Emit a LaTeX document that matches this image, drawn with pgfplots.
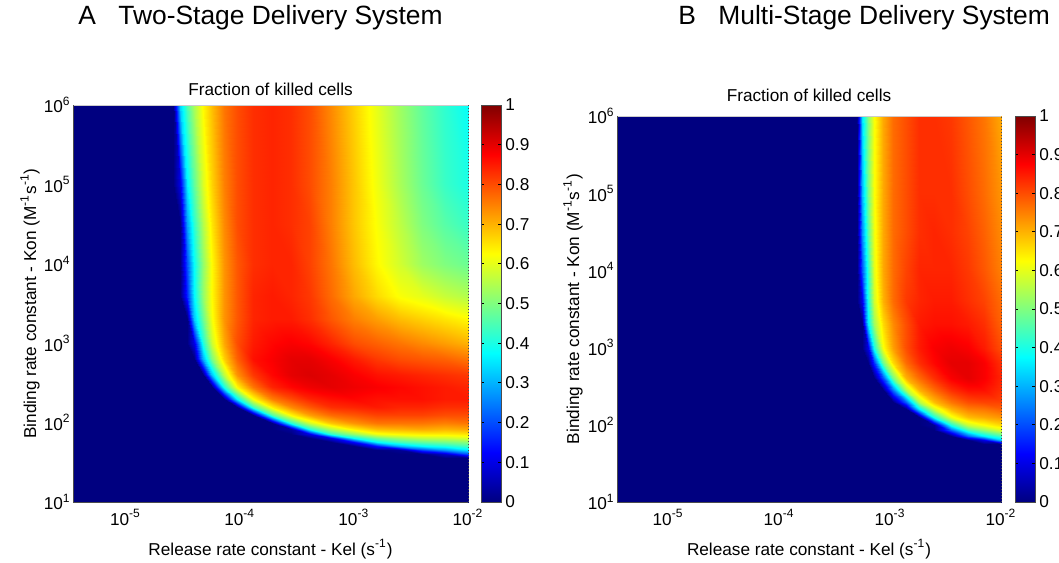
\documentclass[border=0pt]{standalone}
\usepackage{fontspec}
\setmainfont{Liberation Sans}
\usepackage{pgfplots}
\pgfplotsset{compat=1.18}
\newcommand\lab{\fontsize{8.6}{10.3}\selectfont}
\newcommand\bigT{\fontsize{13.2}{15}\selectfont}
\pgfplotsset{
 heat/.style={
  view={0}{90}, scale only axis, colormap/jet,
  point meta min=0, point meta max=1,
  xmin=-5.46, xmax=-2, ymin=1, ymax=6, clip=false,
  xtick={-5,-4,-3,-2},
  xticklabels={10\textsuperscript{-5},10\textsuperscript{-4},10\textsuperscript{-3},10\textsuperscript{-2}},
  ytick={1,2,3,4,5,6},
  yticklabels={10\textsuperscript{1},10\textsuperscript{2},10\textsuperscript{3},10\textsuperscript{4},10\textsuperscript{5},10\textsuperscript{6}},
  ztick=\empty,
  xtick style={draw=none}, ytick style={draw=none},
  axis line style={draw=none},
  ticklabel style={font=\lab},
  xticklabel style={inner sep=3.5pt},
  yticklabel style={inner sep=1pt},
  colorbar,
 },
 cbar/.style={
  colorbar shift/.style={xshift=#1},
  colorbar style={
   at={(parent axis.north east)}, anchor=north west,
   width=10pt, scale only axis,
   ytick={0,0.1,0.2,0.3,0.4,0.5,0.6,0.7,0.8,0.9,1},
   yticklabels={0,0.1,0.2,0.3,0.4,0.5,0.6,0.7,0.8,0.9,1},
   ytick pos=both, yticklabel pos=right, tick align=inside,
   yticklabel style={font=\lab, inner sep=2pt},
   axis line style={gray!60!black, line width=0.5pt},
   ytick style={black, line width=0.5pt},
   major tick length=1.5pt,
  }
 }
}
\begin{document}
\begin{tikzpicture}
\useasboundingbox (0,0) rectangle (529.5pt,-281pt);

% ---------------- Panel A ----------------
\begin{axis}[heat, cbar=6.5pt, at={(36.5pt,-52.5pt)}, anchor=north west,
  width=197.5pt, height=198.5pt, colorbar style={height=198.5pt}]
\addplot3[surf, shader=interp, mesh/cols=20] table[row sep=\\] {
x y z\\
-5.46 1 0\\-4.58 1 0\\-4.52 1 0\\-4.46 1 0\\-4.40 1 0\\-4.32 1 0\\-4.24 1 0\\-4.14 1 0\\-4.02 1 0\\-3.88 1 0\\-3.72 1 0\\-3.55 1 0\\-3.38 1 0\\-3.20 1 0\\-3.00 1 0\\-2.80 1 0\\-2.60 1 0\\-2.40 1 0\\-2.20 1 0\\-2.00 1 0\\
-5.46 1.55 0\\-4.58 1.55 0\\-4.52 1.55 0\\-4.46 1.55 0\\-4.40 1.55 0\\-4.32 1.55 0\\-4.24 1.55 0\\-4.14 1.55 0\\-4.02 1.55 0\\-3.88 1.55 0\\-3.72 1.55 0\\-3.55 1.55 0\\-3.38 1.55 0\\-3.20 1.55 0\\-3.00 1.55 0\\-2.80 1.55 0\\-2.60 1.55 0\\-2.40 1.55 0\\-2.20 1.55 0\\-2.00 1.55 0\\
-5.46 1.6 0\\-4.58 1.6 0\\-4.52 1.6 0\\-4.46 1.6 0\\-4.40 1.6 0\\-4.32 1.6 0\\-4.24 1.6 0\\-4.14 1.6 0\\-4.02 1.6 0\\-3.88 1.6 0\\-3.72 1.6 0\\-3.55 1.6 0\\-3.38 1.6 0\\-3.20 1.6 0\\-3.00 1.6 0\\-2.80 1.6 0\\-2.60 1.6 0\\-2.40 1.6 0\\-2.20 1.6 0.07\\-2.00 1.6 0.20\\
-5.46 1.65 0\\-4.58 1.65 0\\-4.52 1.65 0\\-4.46 1.65 0\\-4.40 1.65 0\\-4.32 1.65 0\\-4.24 1.65 0\\-4.14 1.65 0\\-4.02 1.65 0\\-3.88 1.65 0\\-3.72 1.65 0\\-3.55 1.65 0\\-3.38 1.65 0\\-3.20 1.65 0\\-3.00 1.65 0\\-2.80 1.65 0\\-2.60 1.65 0.02\\-2.40 1.65 0.18\\-2.20 1.65 0.27\\-2.00 1.65 0.35\\
-5.46 1.7 0\\-4.58 1.7 0\\-4.52 1.7 0\\-4.46 1.7 0\\-4.40 1.7 0\\-4.32 1.7 0\\-4.24 1.7 0\\-4.14 1.7 0\\-4.02 1.7 0\\-3.88 1.7 0\\-3.72 1.7 0\\-3.55 1.7 0\\-3.38 1.7 0\\-3.20 1.7 0\\-3.00 1.7 0\\-2.80 1.7 0.14\\-2.60 1.7 0.30\\-2.40 1.7 0.37\\-2.20 1.7 0.40\\-2.00 1.7 0.44\\
-5.46 1.75 0\\-4.58 1.75 0\\-4.52 1.75 0\\-4.46 1.75 0\\-4.40 1.75 0\\-4.32 1.75 0\\-4.24 1.75 0\\-4.14 1.75 0\\-4.02 1.75 0\\-3.88 1.75 0\\-3.72 1.75 0\\-3.55 1.75 0\\-3.38 1.75 0\\-3.20 1.75 0\\-3.00 1.75 0.13\\-2.80 1.75 0.37\\-2.60 1.75 0.44\\-2.40 1.75 0.47\\-2.20 1.75 0.49\\-2.00 1.75 0.51\\
-5.46 1.8 0\\-4.58 1.8 0\\-4.52 1.8 0\\-4.46 1.8 0\\-4.40 1.8 0\\-4.32 1.8 0\\-4.24 1.8 0\\-4.14 1.8 0\\-4.02 1.8 0\\-3.88 1.8 0\\-3.72 1.8 0\\-3.55 1.8 0\\-3.38 1.8 0\\-3.20 1.8 0.10\\-3.00 1.8 0.38\\-2.80 1.8 0.48\\-2.60 1.8 0.53\\-2.40 1.8 0.56\\-2.20 1.8 0.57\\-2.00 1.8 0.59\\
-5.46 1.86 0\\-4.58 1.86 0\\-4.52 1.86 0\\-4.46 1.86 0\\-4.40 1.86 0\\-4.32 1.86 0\\-4.24 1.86 0\\-4.14 1.86 0\\-4.02 1.86 0\\-3.88 1.86 0\\-3.72 1.86 0\\-3.55 1.86 0\\-3.38 1.86 0.10\\-3.20 1.86 0.42\\-3.00 1.86 0.52\\-2.80 1.86 0.61\\-2.60 1.86 0.63\\-2.40 1.86 0.64\\-2.20 1.86 0.64\\-2.00 1.86 0.65\\
-5.46 1.92 0\\-4.58 1.92 0\\-4.52 1.92 0\\-4.46 1.92 0\\-4.40 1.92 0\\-4.32 1.92 0\\-4.24 1.92 0\\-4.14 1.92 0\\-4.02 1.92 0\\-3.88 1.92 0\\-3.72 1.92 0\\-3.55 1.92 0.03\\-3.38 1.92 0.41\\-3.20 1.92 0.55\\-3.00 1.92 0.64\\-2.80 1.92 0.69\\-2.60 1.92 0.70\\-2.40 1.92 0.71\\-2.20 1.92 0.70\\-2.00 1.92 0.71\\
-5.46 2.0 0\\-4.58 2.0 0\\-4.52 2.0 0\\-4.46 2.0 0\\-4.40 2.0 0\\-4.32 2.0 0\\-4.24 2.0 0\\-4.14 2.0 0\\-4.02 2.0 0\\-3.88 2.0 0\\-3.72 2.0 0\\-3.55 2.0 0.41\\-3.38 2.0 0.58\\-3.20 2.0 0.68\\-3.00 2.0 0.73\\-2.80 2.0 0.76\\-2.60 2.0 0.76\\-2.40 2.0 0.76\\-2.20 2.0 0.75\\-2.00 2.0 0.76\\
-5.46 2.1 0\\-4.58 2.1 0\\-4.52 2.1 0\\-4.46 2.1 0\\-4.40 2.1 0\\-4.32 2.1 0\\-4.24 2.1 0\\-4.14 2.1 0\\-4.02 2.1 0\\-3.88 2.1 0\\-3.72 2.1 0.45\\-3.55 2.1 0.63\\-3.38 2.1 0.72\\-3.20 2.1 0.77\\-3.00 2.1 0.79\\-2.80 2.1 0.81\\-2.60 2.1 0.81\\-2.40 2.1 0.81\\-2.20 2.1 0.80\\-2.00 2.1 0.80\\
-5.46 2.2 0\\-4.58 2.2 0\\-4.52 2.2 0\\-4.46 2.2 0\\-4.40 2.2 0\\-4.32 2.2 0\\-4.24 2.2 0\\-4.14 2.2 0\\-4.02 2.2 0\\-3.88 2.2 0.43\\-3.72 2.2 0.64\\-3.55 2.2 0.74\\-3.38 2.2 0.79\\-3.20 2.2 0.83\\-3.00 2.2 0.84\\-2.80 2.2 0.85\\-2.60 2.2 0.84\\-2.40 2.2 0.84\\-2.20 2.2 0.83\\-2.00 2.2 0.83\\
-5.46 2.3 0\\-4.58 2.3 0\\-4.52 2.3 0\\-4.46 2.3 0\\-4.40 2.3 0\\-4.32 2.3 0\\-4.24 2.3 0\\-4.14 2.3 0\\-4.02 2.3 0.37\\-3.88 2.3 0.62\\-3.72 2.3 0.75\\-3.55 2.3 0.80\\-3.38 2.3 0.84\\-3.20 2.3 0.86\\-3.00 2.3 0.87\\-2.80 2.3 0.86\\-2.60 2.3 0.86\\-2.40 2.3 0.86\\-2.20 2.3 0.85\\-2.00 2.3 0.85\\
-5.46 2.45 0\\-4.58 2.45 0\\-4.52 2.45 0\\-4.46 2.45 0\\-4.40 2.45 0\\-4.32 2.45 0\\-4.24 2.45 0\\-4.14 2.45 0.40\\-4.02 2.45 0.63\\-3.88 2.45 0.76\\-3.72 2.45 0.84\\-3.55 2.45 0.87\\-3.38 2.45 0.89\\-3.20 2.45 0.90\\-3.00 2.45 0.89\\-2.80 2.45 0.88\\-2.60 2.45 0.87\\-2.40 2.45 0.86\\-2.20 2.45 0.85\\-2.00 2.45 0.84\\
-5.46 2.6 0\\-4.58 2.6 0\\-4.52 2.6 0\\-4.46 2.6 0\\-4.40 2.6 0\\-4.32 2.6 0\\-4.24 2.6 0.32\\-4.14 2.6 0.56\\-4.02 2.6 0.73\\-3.88 2.6 0.82\\-3.72 2.6 0.87\\-3.55 2.6 0.90\\-3.38 2.6 0.91\\-3.20 2.6 0.90\\-3.00 2.6 0.88\\-2.80 2.6 0.86\\-2.60 2.6 0.85\\-2.40 2.6 0.84\\-2.20 2.6 0.83\\-2.00 2.6 0.82\\
-5.46 2.8 0\\-4.58 2.8 0\\-4.52 2.8 0\\-4.46 2.8 0\\-4.40 2.8 0\\-4.32 2.8 0.30\\-4.24 2.8 0.50\\-4.14 2.8 0.67\\-4.02 2.8 0.78\\-3.88 2.8 0.86\\-3.72 2.8 0.88\\-3.55 2.8 0.90\\-3.38 2.8 0.90\\-3.20 2.8 0.88\\-3.00 2.8 0.85\\-2.80 2.8 0.82\\-2.60 2.8 0.80\\-2.40 2.8 0.79\\-2.20 2.8 0.78\\-2.00 2.8 0.76\\
-5.46 3.0 0\\-4.58 3.0 0\\-4.52 3.0 0\\-4.46 3.0 0\\-4.40 3.0 0.10\\-4.32 3.0 0.41\\-4.24 3.0 0.58\\-4.14 3.0 0.71\\-4.02 3.0 0.80\\-3.88 3.0 0.85\\-3.72 3.0 0.87\\-3.55 3.0 0.88\\-3.38 3.0 0.87\\-3.20 3.0 0.84\\-3.00 3.0 0.80\\-2.80 3.0 0.78\\-2.60 3.0 0.76\\-2.40 3.0 0.74\\-2.20 3.0 0.72\\-2.00 3.0 0.70\\
-5.46 3.3 0\\-4.58 3.3 0\\-4.52 3.3 0\\-4.46 3.3 0\\-4.40 3.3 0.32\\-4.32 3.3 0.48\\-4.24 3.3 0.62\\-4.14 3.3 0.73\\-4.02 3.3 0.79\\-3.88 3.3 0.84\\-3.72 3.3 0.85\\-3.55 3.3 0.85\\-3.38 3.3 0.83\\-3.20 3.3 0.79\\-3.00 3.3 0.75\\-2.80 3.3 0.72\\-2.60 3.3 0.69\\-2.40 3.3 0.67\\-2.20 3.3 0.65\\-2.00 3.3 0.63\\
-5.46 3.6 0\\-4.58 3.6 0\\-4.52 3.6 0\\-4.46 3.6 0.16\\-4.40 3.6 0.37\\-4.32 3.6 0.52\\-4.24 3.6 0.63\\-4.14 3.6 0.73\\-4.02 3.6 0.79\\-3.88 3.6 0.84\\-3.72 3.6 0.85\\-3.55 3.6 0.84\\-3.38 3.6 0.82\\-3.20 3.6 0.77\\-3.00 3.6 0.71\\-2.80 3.6 0.66\\-2.60 3.6 0.62\\-2.40 3.6 0.60\\-2.20 3.6 0.57\\-2.00 3.6 0.55\\
-5.46 4.0 0\\-4.58 4.0 0\\-4.52 4.0 0\\-4.46 4.0 0.20\\-4.40 4.0 0.38\\-4.32 4.0 0.52\\-4.24 4.0 0.63\\-4.14 4.0 0.73\\-4.02 4.0 0.79\\-3.88 4.0 0.83\\-3.72 4.0 0.84\\-3.55 4.0 0.84\\-3.38 4.0 0.81\\-3.20 4.0 0.76\\-3.00 4.0 0.69\\-2.80 4.0 0.63\\-2.60 4.0 0.58\\-2.40 4.0 0.53\\-2.20 4.0 0.50\\-2.00 4.0 0.48\\
-5.46 4.5 0\\-4.58 4.5 0\\-4.52 4.5 0\\-4.46 4.5 0.28\\-4.40 4.5 0.42\\-4.32 4.5 0.55\\-4.24 4.5 0.65\\-4.14 4.5 0.74\\-4.02 4.5 0.80\\-3.88 4.5 0.83\\-3.72 4.5 0.84\\-3.55 4.5 0.83\\-3.38 4.5 0.81\\-3.20 4.5 0.75\\-3.00 4.5 0.68\\-2.80 4.5 0.62\\-2.60 4.5 0.56\\-2.40 4.5 0.50\\-2.20 4.5 0.46\\-2.00 4.5 0.43\\
-5.46 5.0 0\\-4.58 5.0 0\\-4.52 5.0 0.10\\-4.46 5.0 0.36\\-4.40 5.0 0.47\\-4.32 5.0 0.59\\-4.24 5.0 0.67\\-4.14 5.0 0.75\\-4.02 5.0 0.80\\-3.88 5.0 0.83\\-3.72 5.0 0.84\\-3.55 5.0 0.83\\-3.38 5.0 0.80\\-3.20 5.0 0.75\\-3.00 5.0 0.68\\-2.80 5.0 0.61\\-2.60 5.0 0.54\\-2.40 5.0 0.48\\-2.20 5.0 0.43\\-2.00 5.0 0.40\\
-5.46 6.0 0\\-4.58 6.0 0\\-4.52 6.0 0.33\\-4.46 6.0 0.45\\-4.40 6.0 0.54\\-4.32 6.0 0.63\\-4.24 6.0 0.69\\-4.14 6.0 0.76\\-4.02 6.0 0.80\\-3.88 6.0 0.83\\-3.72 6.0 0.84\\-3.55 6.0 0.83\\-3.38 6.0 0.80\\-3.20 6.0 0.74\\-3.00 6.0 0.67\\-2.80 6.0 0.60\\-2.60 6.0 0.53\\-2.40 6.0 0.47\\-2.20 6.0 0.42\\-2.00 6.0 0.38\\
};
\draw[gray!40, line width=0.4pt] (axis cs:-5.46,6,0) -- (axis cs:-2,6,0);
\draw[gray!60!black, line width=0.5pt] (axis cs:-5.46,6,0) -- (axis cs:-5.46,1,0) -- (axis cs:-2,1,0);
\draw[gray!60!black, densely dotted, line width=0.5pt] (axis cs:-2,1,0) -- (axis cs:-2,6,0);
\end{axis}

% ---------------- Panel B ----------------
\begin{axis}[heat, cbar=7pt, at={(308.5pt,-58pt)}, anchor=north west,
  width=192pt, height=193pt, colorbar style={height=193pt}]
\addplot3[surf, shader=interp, mesh/cols=14] table[row sep=\\] {
x y z\\
-5.46 1 0\\-3.30 1 0\\-3.25 1 0\\-3.20 1 0\\-3.14 1 0\\-3.06 1 0\\-2.97 1 0\\-2.86 1 0\\-2.74 1 0\\-2.60 1 0\\-2.45 1 0\\-2.30 1 0\\-2.15 1 0\\-2.00 1 0\\
-5.46 1.75 0\\-3.30 1.75 0\\-3.25 1.75 0\\-3.20 1.75 0\\-3.14 1.75 0\\-3.06 1.75 0\\-2.97 1.75 0\\-2.86 1.75 0\\-2.74 1.75 0\\-2.60 1.75 0\\-2.45 1.75 0\\-2.30 1.75 0\\-2.15 1.75 0\\-2.00 1.75 0\\
-5.46 1.8 0\\-3.30 1.8 0\\-3.25 1.8 0\\-3.20 1.8 0\\-3.14 1.8 0\\-3.06 1.8 0\\-2.97 1.8 0\\-2.86 1.8 0\\-2.74 1.8 0\\-2.60 1.8 0\\-2.45 1.8 0\\-2.30 1.8 0\\-2.15 1.8 0.10\\-2.00 1.8 0.32\\
-5.46 1.86 0\\-3.30 1.86 0\\-3.25 1.86 0\\-3.20 1.86 0\\-3.14 1.86 0\\-3.06 1.86 0\\-2.97 1.86 0\\-2.86 1.86 0\\-2.74 1.86 0\\-2.60 1.86 0\\-2.45 1.86 0\\-2.30 1.86 0.22\\-2.15 1.86 0.36\\-2.00 1.86 0.44\\
-5.46 1.93 0\\-3.30 1.93 0\\-3.25 1.93 0\\-3.20 1.93 0\\-3.14 1.93 0\\-3.06 1.93 0\\-2.97 1.93 0\\-2.86 1.93 0\\-2.74 1.93 0\\-2.60 1.93 0\\-2.45 1.93 0.22\\-2.30 1.93 0.44\\-2.15 1.93 0.52\\-2.00 1.93 0.59\\
-5.46 2.0 0\\-3.30 2.0 0\\-3.25 2.0 0\\-3.20 2.0 0\\-3.14 2.0 0\\-3.06 2.0 0\\-2.97 2.0 0\\-2.86 2.0 0\\-2.74 2.0 0\\-2.60 2.0 0.02\\-2.45 2.0 0.40\\-2.30 2.0 0.57\\-2.15 2.0 0.62\\-2.00 2.0 0.66\\
-5.46 2.1 0\\-3.30 2.1 0\\-3.25 2.1 0\\-3.20 2.1 0\\-3.14 2.1 0\\-3.06 2.1 0\\-2.97 2.1 0\\-2.86 2.1 0\\-2.74 2.1 0\\-2.60 2.1 0.40\\-2.45 2.1 0.61\\-2.30 2.1 0.69\\-2.15 2.1 0.71\\-2.00 2.1 0.73\\
-5.46 2.2 0\\-3.30 2.2 0\\-3.25 2.2 0\\-3.20 2.2 0\\-3.14 2.2 0\\-3.06 2.2 0\\-2.97 2.2 0\\-2.86 2.2 0\\-2.74 2.2 0.36\\-2.60 2.2 0.58\\-2.45 2.2 0.70\\-2.30 2.2 0.75\\-2.15 2.2 0.76\\-2.00 2.2 0.78\\
-5.46 2.3 0\\-3.30 2.3 0\\-3.25 2.3 0\\-3.20 2.3 0\\-3.14 2.3 0\\-3.06 2.3 0\\-2.97 2.3 0\\-2.86 2.3 0.22\\-2.74 2.3 0.55\\-2.60 2.3 0.69\\-2.45 2.3 0.76\\-2.30 2.3 0.80\\-2.15 2.3 0.81\\-2.00 2.3 0.81\\
-5.46 2.45 0\\-3.30 2.45 0\\-3.25 2.45 0\\-3.20 2.45 0\\-3.14 2.45 0\\-3.06 2.45 0\\-2.97 2.45 0.24\\-2.86 2.45 0.55\\-2.74 2.45 0.70\\-2.60 2.45 0.77\\-2.45 2.45 0.83\\-2.30 2.45 0.86\\-2.15 2.45 0.86\\-2.00 2.45 0.83\\
-5.46 2.6 0\\-3.30 2.6 0\\-3.25 2.6 0\\-3.20 2.6 0\\-3.14 2.6 0\\-3.06 2.6 0.20\\-2.97 2.6 0.49\\-2.86 2.6 0.70\\-2.74 2.6 0.77\\-2.60 2.6 0.83\\-2.45 2.6 0.88\\-2.30 2.6 0.90\\-2.15 2.6 0.88\\-2.00 2.6 0.84\\
-5.46 2.8 0\\-3.30 2.8 0\\-3.25 2.8 0\\-3.20 2.8 0\\-3.14 2.8 0.17\\-3.06 2.8 0.48\\-2.97 2.8 0.66\\-2.86 2.8 0.77\\-2.74 2.8 0.83\\-2.60 2.8 0.87\\-2.45 2.8 0.90\\-2.30 2.8 0.90\\-2.15 2.8 0.88\\-2.00 2.8 0.83\\
-5.46 3.0 0\\-3.30 3.0 0\\-3.25 3.0 0\\-3.20 3.0 0.10\\-3.14 3.0 0.40\\-3.06 3.0 0.62\\-2.97 3.0 0.72\\-2.86 3.0 0.80\\-2.74 3.0 0.85\\-2.60 3.0 0.88\\-2.45 3.0 0.89\\-2.30 3.0 0.88\\-2.15 3.0 0.85\\-2.00 3.0 0.80\\
-5.46 3.3 0\\-3.30 3.3 0\\-3.25 3.3 0\\-3.20 3.3 0.36\\-3.14 3.3 0.53\\-3.06 3.3 0.66\\-2.97 3.3 0.74\\-2.86 3.3 0.80\\-2.74 3.3 0.85\\-2.60 3.3 0.86\\-2.45 3.3 0.86\\-2.30 3.3 0.85\\-2.15 3.3 0.83\\-2.00 3.3 0.78\\
-5.46 3.6 0\\-3.30 3.6 0\\-3.25 3.6 0.10\\-3.20 3.6 0.40\\-3.14 3.6 0.58\\-3.06 3.6 0.70\\-2.97 3.6 0.77\\-2.86 3.6 0.82\\-2.74 3.6 0.84\\-2.60 3.6 0.85\\-2.45 3.6 0.85\\-2.30 3.6 0.83\\-2.15 3.6 0.81\\-2.00 3.6 0.77\\
-5.46 4.0 0\\-3.30 4.0 0\\-3.25 4.0 0.20\\-3.20 4.0 0.42\\-3.14 4.0 0.60\\-3.06 4.0 0.71\\-2.97 4.0 0.77\\-2.86 4.0 0.81\\-2.74 4.0 0.84\\-2.60 4.0 0.84\\-2.45 4.0 0.84\\-2.30 4.0 0.82\\-2.15 4.0 0.79\\-2.00 4.0 0.75\\
-5.46 4.5 0\\-3.30 4.5 0\\-3.25 4.5 0.26\\-3.20 4.5 0.46\\-3.14 4.5 0.61\\-3.06 4.5 0.71\\-2.97 4.5 0.77\\-2.86 4.5 0.80\\-2.74 4.5 0.83\\-2.60 4.5 0.84\\-2.45 4.5 0.83\\-2.30 4.5 0.81\\-2.15 4.5 0.78\\-2.00 4.5 0.74\\
-5.46 5.0 0\\-3.30 5.0 0\\-3.25 5.0 0.30\\-3.20 5.0 0.49\\-3.14 5.0 0.62\\-3.06 5.0 0.71\\-2.97 5.0 0.77\\-2.86 5.0 0.80\\-2.74 5.0 0.83\\-2.60 5.0 0.83\\-2.45 5.0 0.83\\-2.30 5.0 0.80\\-2.15 5.0 0.77\\-2.00 5.0 0.73\\
-5.46 6.0 0\\-3.30 6.0 0\\-3.25 6.0 0.34\\-3.20 6.0 0.50\\-3.14 6.0 0.62\\-3.06 6.0 0.71\\-2.97 6.0 0.77\\-2.86 6.0 0.80\\-2.74 6.0 0.83\\-2.60 6.0 0.83\\-2.45 6.0 0.82\\-2.30 6.0 0.79\\-2.15 6.0 0.76\\-2.00 6.0 0.71\\
};
\draw[gray!40, line width=0.4pt] (axis cs:-5.46,6,0) -- (axis cs:-2,6,0);
\draw[gray!60!black, line width=0.5pt] (axis cs:-5.46,6,0) -- (axis cs:-5.46,1,0) -- (axis cs:-2,1,0);
\draw[gray!60!black, densely dotted, line width=0.5pt] (axis cs:-2,1,0) -- (axis cs:-2,6,0);
\end{axis}

% ---------------- Titles and labels ----------------
\node[anchor=base west, font=\bigT, inner sep=0] at (39pt,-12.5pt) {A};
\node[anchor=base west, font=\bigT, inner sep=0] at (59pt,-12.5pt) {Two-Stage Delivery System};
\node[anchor=base west, font=\bigT, inner sep=0] at (339pt,-12.5pt) {B};
\node[anchor=base west, font=\bigT, inner sep=0] at (359pt,-12.5pt) {Multi-Stage Delivery System};

\node[anchor=base, font=\lab, inner sep=0] at (135.25pt,-47.5pt) {Fraction of killed cells};
\node[anchor=base, font=\lab, inner sep=0] at (404.5pt,-50.5pt) {Fraction of killed cells};

\node[anchor=center, font=\lab, inner sep=0] at (135.25pt,-274.5pt) {Release rate constant - Kel (s\textsuperscript{-1})};
\node[anchor=center, font=\lab, inner sep=0] at (404.5pt,-274.5pt) {Release rate constant - Kel (s\textsuperscript{-1})};
\node[anchor=center, rotate=90, font=\lab, inner sep=0] at (15pt,-151.75pt) {Binding rate constant - Kon (M\textsuperscript{-1}s\textsuperscript{-1})};
\node[anchor=center, rotate=90, font=\lab, inner sep=0] at (286.5pt,-154.5pt) {Binding rate constant - Kon (M\textsuperscript{-1}s\textsuperscript{-1})};
\end{tikzpicture}
\end{document}
